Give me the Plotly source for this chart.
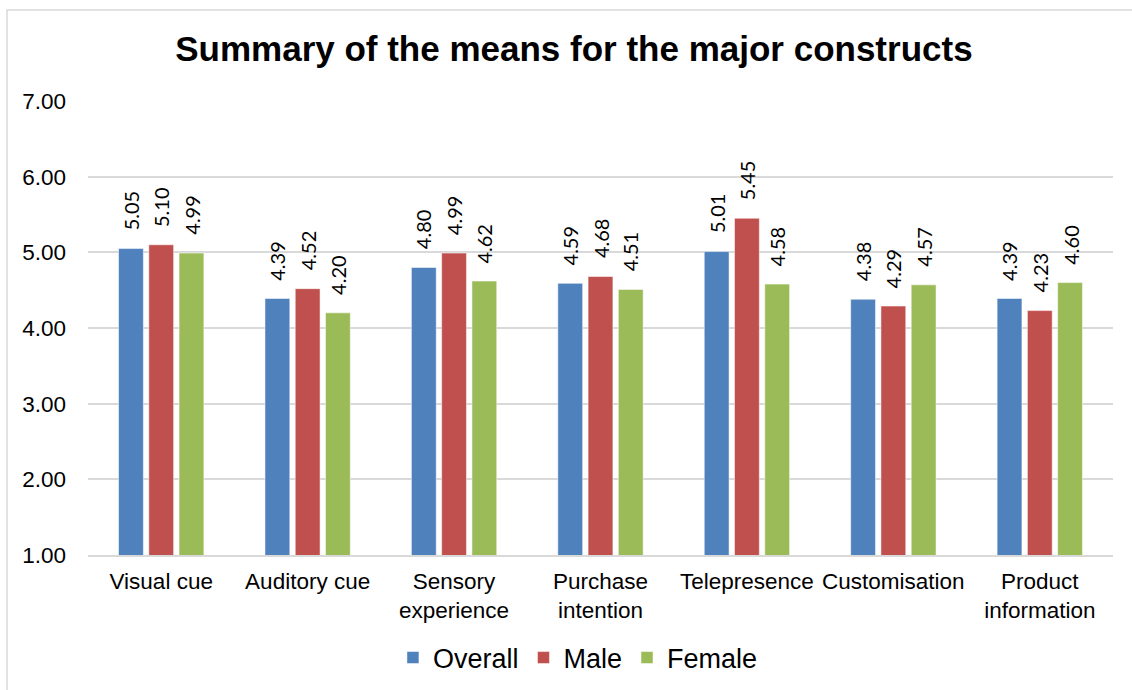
import plotly.graph_objects as go

categories = ["Visual cue", "Auditory cue", "Sensory<br>experience", "Purchase<br>intention",
              "Telepresence", "Customisation", "Product<br>information"]
overall = [5.05, 4.39, 4.80, 4.59, 5.01, 4.38, 4.39]
male = [5.10, 4.52, 4.99, 4.68, 5.45, 4.29, 4.23]
female = [4.99, 4.20, 4.62, 4.51, 4.58, 4.57, 4.60]
series_names = ["Overall", "Male", "Female"]
colors = ["#4F81BD", "#C0504D", "#9BBB59"]

fig = go.Figure()
annotations = []
slot_px = 30.4
for i, (name, vals, col) in enumerate(zip(series_names, [overall, male, female], colors)):
    fig.add_trace(go.Bar(
        x=categories, y=vals, name=name,
        marker=dict(color=col, line=dict(color="rgba(255,255,255,0.5)", width=1)),
    ))
    for c, v in zip(categories, vals):
        annotations.append(dict(
            x=c, y=v, xref="x", yref="y", text=f"{v:.2f}", showarrow=False,
            textangle=-90, xanchor="center", yanchor="bottom",
            xshift=(i - 1) * slot_px, yshift=16,
            font=dict(family="Lato, Open Sans, sans-serif", size=20, color="#000000"),
        ))

fig.update_layout(
    width=1132, height=690,
    margin=dict(l=88, r=19, t=101, b=135, autoexpand=False),
    paper_bgcolor="white", plot_bgcolor="white",
    barmode="group", bargap=0.38, bargroupgap=0.18,
    title=dict(text="<b>Summary of the means for the major constructs</b>",
               x=0.507, xanchor="center", y=0.93, yanchor="middle",
               font=dict(family="Liberation Sans, Arial, sans-serif", size=35, color="#000000")),
    font=dict(family="Liberation Sans, Arial, sans-serif", color="#000000"),
    legend=dict(orientation="h", x=0.478, xanchor="center",
                yref="container", y=1 - 658 / 690, yanchor="middle",
                font=dict(size=27, color="#000000"), itemwidth=30, traceorder="normal"),
    annotations=annotations,
    shapes=[dict(type="rect", xref="paper", yref="paper",
                 x0=(7 - 88) / 1025, x1=(1140 - 88) / 1025,
                 y0=(555 - 700) / 454, y1=(555 - 10) / 454,
                 line=dict(color="#D9D9D9", width=1.5), fillcolor="rgba(0,0,0,0)", layer="below")],
)

fig.update_yaxes(range=[1, 7], dtick=1, tickformat=".2f",
                 showgrid=True, gridcolor="#D9D9D9", gridwidth=1.5,
                 zeroline=False, showline=False, ticks="", ticklen=0,
                 tickfont=dict(size=22.5, color="#000000"), ticklabelstandoff=21)
fig.update_xaxes(showline=True, linecolor="#D9D9D9", linewidth=1.5, ticks="",
                 tickfont=dict(size=22.5, color="#000000"), ticklabelstandoff=5)

fig.write_html("out.html")
